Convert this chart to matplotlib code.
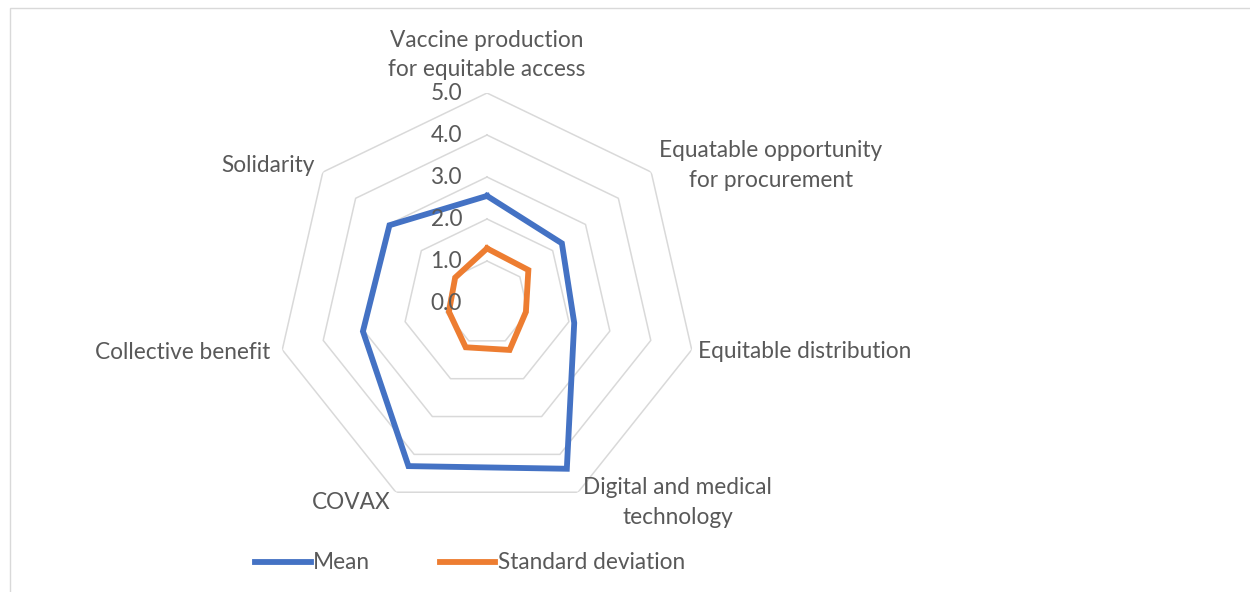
import matplotlib
matplotlib.use("Agg")
import matplotlib.pyplot as plt
import numpy as np
from matplotlib.lines import Line2D
from matplotlib.patches import Rectangle

plt.rcParams['font.family'] = ['Lato', 'DejaVu Sans']

categories = ["Vaccine production\nfor equitable access",
              "Equatable opportunity\nfor procurement",
              "Equitable distribution",
              "Digital and medical\ntechnology",
              "COVAX",
              "Collective benefit",
              "Solidarity"]
mean_vals = [2.55, 2.28, 2.13, 4.38, 4.31, 3.03, 2.97]
std_vals = [1.30, 1.26, 0.95, 1.24, 1.17, 0.93, 0.97]
rings = [0.0, 1.0, 2.0, 3.0, 4.0, 5.0]

text_col = '#595959'
grid_col = '#d9d9d9'
fs = 16.3

n = len(categories)
theta = np.arange(n) * 2 * np.pi / n
theta_c = np.append(theta, theta[0])

fig = plt.figure(figsize=(12.5, 5.92), dpi=100)
ax = fig.add_axes([0.2216, 0.1334, 0.336, 0.7095], projection='polar')
ax.set_theta_zero_location('N')
ax.set_theta_direction(-1)
ax.set_ylim(0, 5)
ax.grid(False)
ax.spines['polar'].set_visible(False)
ax.set_xticks([])
ax.set_yticks([])
ax.patch.set_alpha(0)

# heptagon grid
for r in rings[1:]:
    ax.plot(theta_c, [r] * (n + 1), color=grid_col, lw=1.1, zorder=1)

ax.plot(theta_c, np.append(mean_vals, mean_vals[0]), color='#4472C4', lw=4.2,
        solid_joinstyle='miter', zorder=3)
ax.plot(theta_c, np.append(std_vals, std_vals[0]), color='#ED7D31', lw=4.2,
        solid_joinstyle='miter', zorder=3)

for r in rings:
    ax.annotate(f'{r:.1f}', xy=(0, r), xytext=(-18, 0), textcoords='offset points',
                ha='right', va='center', fontsize=fs, color=text_col, zorder=4,
                annotation_clip=False)

# category labels
pos = [(5.3, 'center', 'bottom'), (5.25, 'left', 'center'), (5.15, 'left', 'center'),
       (5.27, 'left', 'center'), (5.27, 'right', 'center'), (5.3, 'right', 'center'),
       (5.25, 'right', 'center')]
for t, lab, (r, ha, va) in zip(theta, categories, pos):
    ax.text(t, r, lab, ha=ha, va=va, multialignment='center', fontsize=fs,
            color=text_col, linespacing=1.5)

handles = [Line2D([], [], color='#4472C4', lw=4.2),
           Line2D([], [], color='#ED7D31', lw=4.2)]
fig.legend(handles, ['Mean', 'Standard deviation'], loc='center',
           bbox_to_anchor=(0.376, 0.049), ncol=2, frameon=False, fontsize=fs,
           handlelength=2.45, handletextpad=0.1, columnspacing=3.1,
           labelcolor=text_col)

fig.patches.append(Rectangle((0.008, -0.05), 1.1, 1.036, transform=fig.transFigure,
                             fill=False, edgecolor=grid_col, lw=1.0))

fig.savefig('out.png', dpi=100)
